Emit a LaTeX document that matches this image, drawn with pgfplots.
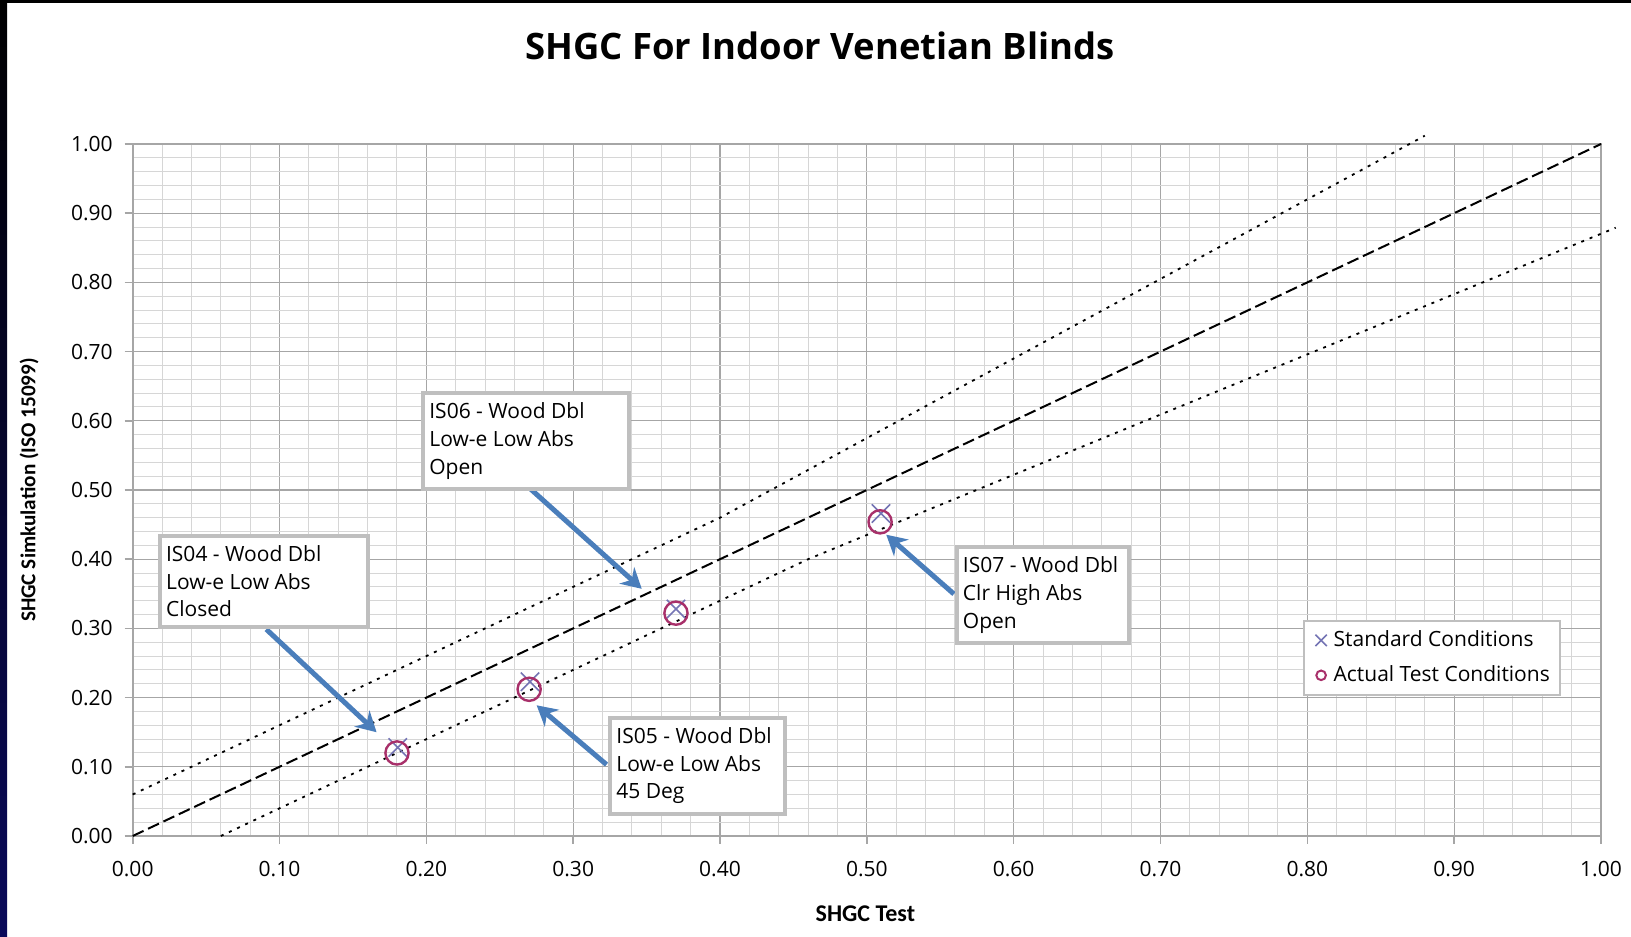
\documentclass[border=0pt]{standalone}
\usepackage{fontspec}
\setmainfont{Open Sans}
\newfontfamily\carlito{Carlito}
\usepackage{pgfplots}
\pgfplotsset{compat=1.18}
\usetikzlibrary{arrows.meta}

\definecolor{majgrid}{HTML}{A6A6A6}
\definecolor{mingrid}{HTML}{D6D6D6}
\definecolor{stdmark}{HTML}{7474B4}
\definecolor{actmark}{HTML}{A8306A}
\definecolor{arrowblue}{HTML}{4A7EBB}
\definecolor{boxgray}{HTML}{BFBFBF}
\definecolor{navy}{HTML}{0A0A5A}

\begin{document}
\begin{tikzpicture}
% slide background pieces
\fill[white] (0,0) rectangle (815.5pt,468pt);
\shade[top color=black, bottom color=navy] (0,0) rectangle (3.5pt,468pt);
\fill[black] (0,466.5pt) rectangle (815.5pt,468pt);

\begin{axis}[
  at={(66.35pt,50pt)}, anchor=south west,
  scale only axis, width=734.15pt, height=346pt,
  xmin=0, xmax=1, ymin=0, ymax=1,
  xtick={0,0.1,0.2,0.3,0.4,0.5,0.6,0.7,0.8,0.9,1},
  ytick={0,0.1,0.2,0.3,0.4,0.5,0.6,0.7,0.8,0.9,1},
  minor tick num=4,
  grid=both,
  major grid style={draw=majgrid, line width=0.6pt},
  minor grid style={draw=mingrid, line width=0.5pt},
  axis line style={draw=majgrid, line width=1pt},
  tick pos=left, tick align=outside,
  major tick length=4pt, minor tick length=0pt,
  major tick style={draw=majgrid, line width=0.8pt},
  /pgf/number format/.cd, fixed, fixed zerofill, precision=2, assume math mode=true,
  /pgfplots/.cd,
  ticklabel style={font=\fontsize{10.5}{12}\selectfont},
  xticklabel style={yshift=-5pt},
  yticklabel style={xshift=-2.5pt},
  clip=false,
  title={SHGC For Indoor Venetian Blinds},
  title style={at={(axis description cs:0.468,1.124)}, anchor=center,
    font=\bfseries\fontsize{18.2}{21}\selectfont},
  xlabel={SHGC Test},
  xlabel style={at={(axis description cs:0.499,-0.1127)}, anchor=center,
    font=\carlito\bfseries\fontsize{12}{14}\selectfont},
  ylabel={SHGC Simkulation (ISO 15099)},
  ylabel style={at={(axis description cs:-0.0706,0.5)}, anchor=center,
    font=\carlito\bfseries\fontsize{10.6}{13}\selectfont},
  legend cell align=left,
  legend style={at={(axis description cs:0.797,0.312)}, anchor=north west,
    draw=boxgray, line width=0.8pt, fill=white,
    font=\fontsize{10.5}{12}\selectfont, row sep=4pt,
    inner xsep=3pt, inner ysep=3pt},
]

% reference lines
\addplot[black, line width=1pt, dash pattern=on 6pt off 2.5pt, forget plot]
  coordinates {(0,0) (1,1)};
\addplot[black, line width=0.9pt, dash pattern=on 1.5pt off 3pt, forget plot]
  coordinates {(0,0.06) (0.40,0.46) (0.50,0.575) (0.60,0.69) (0.70,0.805) (0.80,0.92) (0.88,1.012)};
\addplot[black, line width=0.9pt, dash pattern=on 1.5pt off 3pt, forget plot]
  coordinates {(0.06,0) (0.46,0.40) (0.50,0.435) (0.60,0.522) (0.70,0.609) (0.80,0.696) (0.90,0.783) (1.01,0.879)};

% measured points
\addplot[only marks, mark=x, mark size=6.5pt, draw=stdmark, line width=0.8pt,
  legend image code/.code={\path[draw=none] (0,0) (0.35cm,0);
    \draw[mark=x, draw=stdmark, line width=0.8pt, mark size=4pt] plot[only marks] coordinates {(0.2cm,0cm)};}]
  coordinates {(0.1805,0.128) (0.2706,0.223) (0.370,0.328) (0.5096,0.466)};
\addlegendentry{Standard Conditions}
\addplot[only marks, mark=o, mark size=5.8pt, draw=actmark, line width=1.2pt,
  legend image code/.code={\path[draw=none] (0,0) (0.35cm,0);
    \draw[mark=o, draw=actmark, line width=1pt, mark size=2.4pt] plot[only marks] coordinates {(0.2cm,0cm)};}]
  coordinates {(0.180,0.120) (0.270,0.212) (0.370,0.322) (0.509,0.454)};
\addlegendentry{Actual Test Conditions}

% callouts
\tikzset{callout/.style={draw=boxgray, line width=2pt, fill=white, align=left,
  anchor=north west, inner xsep=3pt, inner ysep=5pt,
  font=\fontsize{10.5}{13.8}\selectfont}}
\draw[arrowblue, line width=2.5pt, -{Stealth[length=10pt, width=11pt]}]
  (axis cs:0.2709,0.5016) -- (axis cs:0.3467,0.3572);
\draw[arrowblue, line width=2.5pt, -{Stealth[length=10pt, width=11pt]}]
  (axis cs:0.091,0.2987) -- (axis cs:0.1661,0.1499);
\draw[arrowblue, line width=2.5pt, -{Stealth[length=10pt, width=11pt]}]
  (axis cs:0.3227,0.1032) -- (axis cs:0.2751,0.1889);
\draw[arrowblue, line width=2.5pt, -{Stealth[length=10pt, width=11pt]}]
  (axis cs:0.5593,0.3497) -- (axis cs:0.5132,0.4354);
\node[callout] at (axis cs:0.1966,0.643) {\makebox[97pt][l]{IS06 - Wood Dbl}\\Low-e Low Abs\\Open};
\node[callout] at (axis cs:0.0173,0.437) {\makebox[98pt][l]{IS04 - Wood Dbl}\\Low-e Low Abs\\Closed};
\node[callout] at (axis cs:0.324,0.174) {\makebox[81.5pt][l]{IS05 - Wood Dbl}\\Low-e Low Abs\\45 Deg};
\node[callout] at (axis cs:0.560,0.4205) {\makebox[80pt][l]{IS07 - Wood Dbl}\\Clr High Abs\\Open};
\end{axis}
\end{tikzpicture}
\end{document}
